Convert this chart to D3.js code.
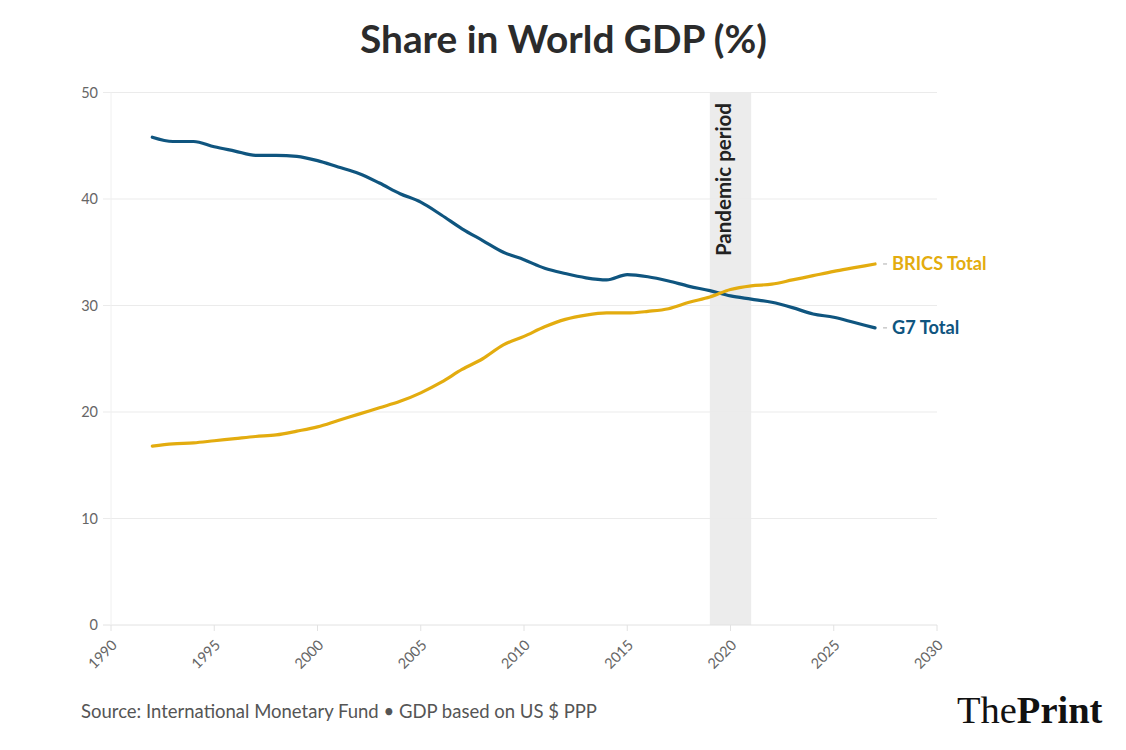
<!DOCTYPE html>
<html><head><meta charset="utf-8">
<script src="https://cdn.jsdelivr.net/npm/d3@7"></script>
<style>
html,body{margin:0;padding:0;background:#fff;}
svg{display:block;}
</style></head>
<body>
<svg id="chart" width="1126" height="750"></svg>
<script>
const years = [1992,1993,1994,1995,1996,1997,1998,1999,2000,2001,2002,2003,2004,2005,2006,2007,2008,2009,2010,2011,2012,2013,2014,2015,2016,2017,2018,2019,2020,2021,2022,2023,2024,2025,2026,2027];
const g7 = [45.8,45.4,45.4,44.9,44.5,44.1,44.1,44.0,43.6,43.0,42.4,41.5,40.5,39.7,38.5,37.2,36.1,35.0,34.3,33.5,33.0,32.6,32.4,32.9,32.7,32.3,31.8,31.4,30.9,30.6,30.3,29.8,29.2,28.9,28.4,27.9];
const brics = [16.8,17.0,17.1,17.3,17.5,17.7,17.85,18.2,18.6,19.2,19.8,20.4,21.0,21.8,22.8,24.0,25.0,26.3,27.1,28.0,28.7,29.1,29.3,29.3,29.45,29.7,30.3,30.8,31.5,31.85,32.0,32.4,32.8,33.2,33.55,33.9];
const xTicks = [1990,1995,2000,2005,2010,2015,2020,2025,2030];
const yTicks = [0,10,20,30,40,50];
const pandemic = [2019,2021];
const titleText = "Share in World GDP (%)";
const sourceText = "Source: International Monetary Fund \u2022 GDP based on US $ PPP";

const svg = d3.select("#chart");
const pL = 111, pR = 937, pT = 92.5, pB = 625;
const x = d3.scaleLinear().domain([1990,2030]).range([pL,pR]);
const y = d3.scaleLinear().domain([0,50]).range([pB,pT]);
const font = "'Source Sans Pro','Lato','Noto Sans',sans-serif";

svg.append("text").attr("x",563.5).attr("y",53).attr("text-anchor","middle")
  .attr("font-family",font).attr("font-weight",700).attr("font-size",38.8)
  .attr("fill","#2b2b2b").text(titleText);

// pandemic band
svg.append("rect").attr("x",x(pandemic[0])).attr("width",x(pandemic[1])-x(pandemic[0]))
  .attr("y",pT).attr("height",pB-pT).attr("fill","#ececec");

// y grid
const gy = svg.append("g");
yTicks.forEach(t=>{
  gy.append("line").attr("x1",pL-8).attr("x2",pR).attr("y1",y(t)).attr("y2",y(t))
    .attr("stroke",t===0?"#e2e2e2":"#ebebeb").attr("stroke-width",1);
  gy.append("text").attr("x",98).attr("y",y(t)+5).attr("text-anchor","end")
    .attr("font-family",font).attr("font-size",14.5).attr("fill","#666").text(t);
});
svg.append("line").attr("x1",pL).attr("x2",pL).attr("y1",pT).attr("y2",pB)
  .attr("stroke","#f0f0f0");

// x axis
const gx = svg.append("g").attr("transform",`translate(0,${pB})`);
xTicks.forEach(t=>{
  gx.append("line").attr("x1",x(t)).attr("x2",x(t)).attr("y1",0).attr("y2",6).attr("stroke","#e2e2e2");
  gx.append("text").attr("transform",`translate(${x(t)+7},${21}) rotate(-45)`)
    .attr("text-anchor","end").attr("font-family",font).attr("font-size",14.5).attr("fill","#666").text(t);
});

// pandemic label
svg.append("text").attr("transform",`translate(${731},${103}) rotate(-90)`)
  .attr("text-anchor","end").attr("font-family",font).attr("font-weight",700).attr("font-size",20.5)
  .attr("fill","#222").text("Pandemic period");

const line = d3.line().x((d,i)=>x(years[i])).y(d=>y(d)).curve(d3.curveMonotoneX);
const series = [
  {name:"G7 Total", values:g7, color:"#0f557f"},
  {name:"BRICS Total", values:brics, color:"#e3ac0f"}
];
series.forEach(s=>{
  svg.append("path").attr("d",line(s.values)).attr("fill","none")
    .attr("stroke",s.color).attr("stroke-width",3.2).attr("stroke-linejoin","round").attr("stroke-linecap","round");
  const lx = x(years[years.length-1]), ly = y(s.values[s.values.length-1]);
  svg.append("line").attr("x1",lx+8).attr("x2",lx+12).attr("y1",ly).attr("y2",ly).attr("stroke","#bbb").attr("stroke-width",1.2);
  svg.append("text").attr("x",lx+17).attr("y",ly+6).attr("font-family",font).attr("font-weight",700)
    .attr("font-size",18.2).attr("fill",s.color).text(s.name);
});

svg.append("text").attr("x",81).attr("y",718).attr("font-family",font).attr("font-size",18.5)
  .attr("fill","#555").text(sourceText);

const logo = svg.append("text").attr("x",957).attr("y",723).attr("font-family","'Liberation Serif','DejaVu Serif',serif")
  .attr("font-size",38.5).attr("fill","#111");
logo.append("tspan").text("The");
logo.append("tspan").attr("font-weight",700).text("Print");
</script>
</body></html>
